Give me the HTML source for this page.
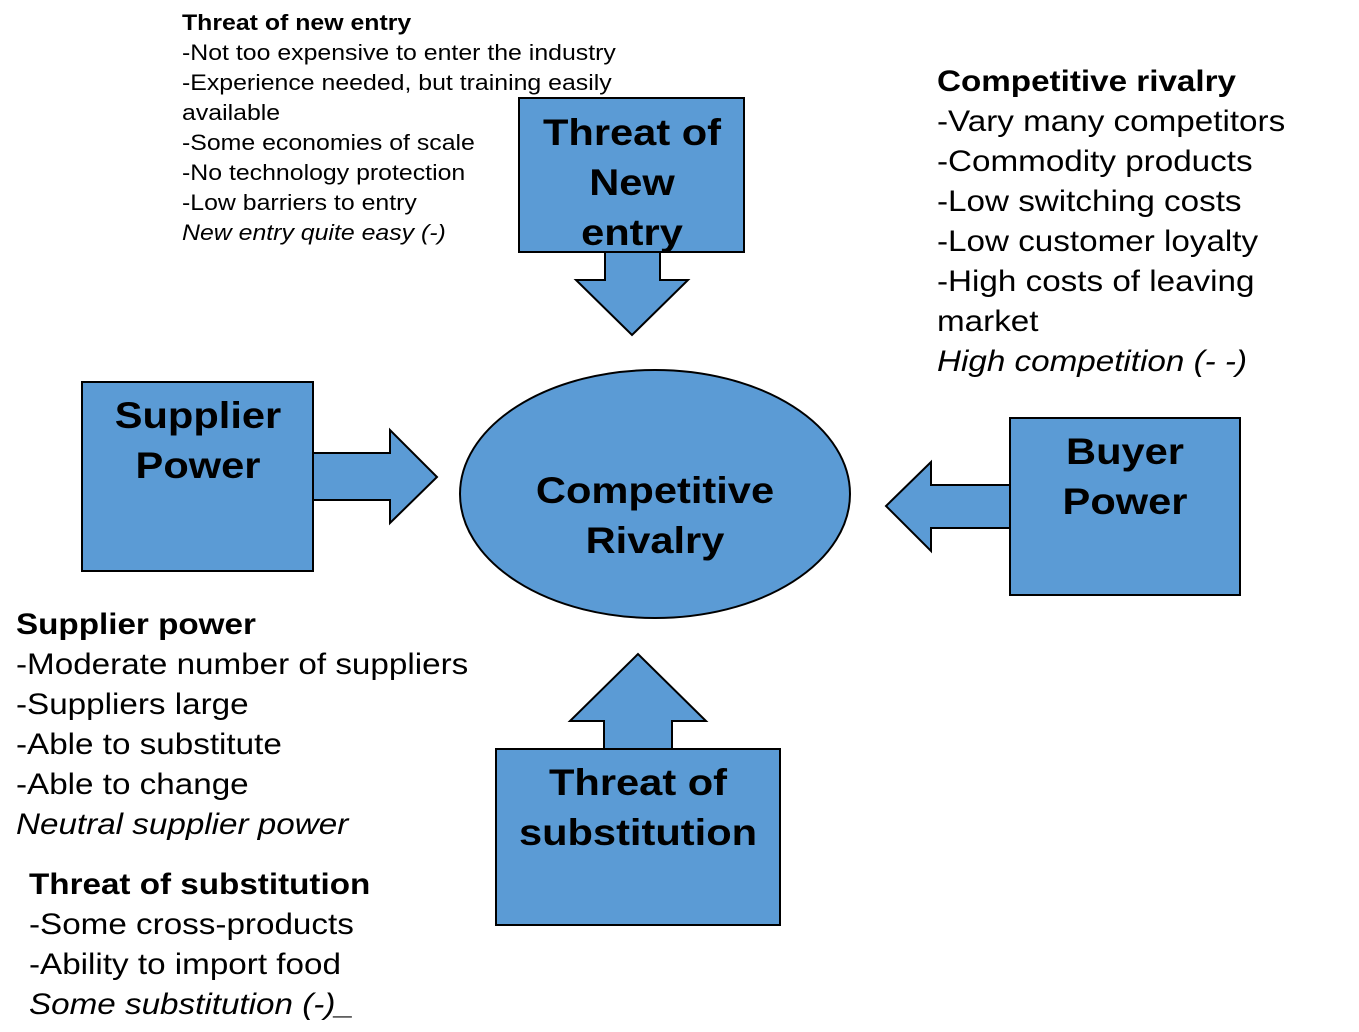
<!DOCTYPE html>
<html><head><meta charset="utf-8"><style>
html,body{margin:0;padding:0;background:#fff;}
svg{display:block;font-family:"Liberation Sans",Arial,sans-serif;}
</style></head><body>
<svg width="1359" height="1032" viewBox="0 0 1359 1032" xmlns="http://www.w3.org/2000/svg">
<g fill="#5b9bd5" stroke="#000" stroke-width="2">
<polygon points="605,240 660,240 660,280 688,280 632,335 576,280 605,280"/>
<rect x="519" y="98" width="225" height="154"/>
<polygon points="300,453 390,453 390,430 437,477 390,523 390,500 300,500"/>
<rect x="82" y="382" width="231" height="189"/>
<polygon points="1020,485 931,485 931,462 886,506 931,551 931,528 1020,528"/>
<rect x="1010" y="418" width="230" height="177"/>
<polygon points="604,760 604,721 570,721 638,654 706,721 672,721 672,760"/>
<rect x="496" y="749" width="284" height="176"/>
<ellipse cx="655" cy="494" rx="195" ry="124"/>
</g>
<g font-weight="bold" font-size="37" text-anchor="middle" fill="#000">
<g transform="translate(632,0) scale(1.125,1)">
<text x="0" y="145">Threat of</text>
<text x="0" y="195">New</text>
<text x="0" y="245">entry</text>
</g>
<g transform="translate(198,0) scale(1.125,1)">
<text x="0" y="428">Supplier</text>
<text x="0" y="478">Power</text>
</g>
<g transform="translate(1125,0) scale(1.125,1)">
<text x="0" y="464">Buyer</text>
<text x="0" y="514">Power</text>
</g>
<g transform="translate(638,0) scale(1.125,1)">
<text x="0" y="795">Threat of</text>
<text x="0" y="845">substitution</text>
</g>
<g transform="translate(655,0) scale(1.125,1)">
<text x="0" y="503">Competitive</text>
<text x="0" y="553">Rivalry</text>
</g>
</g>
<g font-size="22" fill="#000" transform="translate(182,0) scale(1.13,1)">
<text x="0" y="30" font-weight="bold">Threat of new entry</text>
<text x="0" y="60">-Not too expensive to enter the industry</text>
<text x="0" y="90">-Experience needed, but training easily</text>
<text x="0" y="120">available</text>
<text x="0" y="150">-Some economies of scale</text>
<text x="0" y="180">-No technology protection</text>
<text x="0" y="210">-Low barriers to entry</text>
<text x="0" y="240" font-style="italic">New entry quite easy (-)</text>
</g>
<g font-size="29.5" fill="#000" transform="translate(937,0) scale(1.126,1)">
<text x="0" y="91" font-weight="bold">Competitive rivalry</text>
<text x="0" y="131">-Vary many competitors</text>
<text x="0" y="171">-Commodity products</text>
<text x="0" y="211">-Low switching costs</text>
<text x="0" y="251">-Low customer loyalty</text>
<text x="0" y="291">-High costs of leaving</text>
<text x="0" y="331">market</text>
<text x="0" y="371" font-style="italic">High competition (- -)</text>
</g>
<g font-size="29.5" fill="#000" transform="translate(16,0) scale(1.126,1)">
<text x="0" y="634" font-weight="bold">Supplier power</text>
<text x="0" y="674">-Moderate number of suppliers</text>
<text x="0" y="714">-Suppliers large</text>
<text x="0" y="754">-Able to substitute</text>
<text x="0" y="794">-Able to change</text>
<text x="0" y="834" font-style="italic">Neutral supplier power</text>
</g>
<g font-size="29.5" fill="#000" transform="translate(29,0) scale(1.126,1)">
<text x="0" y="894" font-weight="bold">Threat of substitution</text>
<text x="0" y="934">-Some cross-products</text>
<text x="0" y="974">-Ability to import food</text>
<text x="0" y="1014" font-style="italic">Some substitution (-)_</text>
</g>
</svg>
</body></html>
